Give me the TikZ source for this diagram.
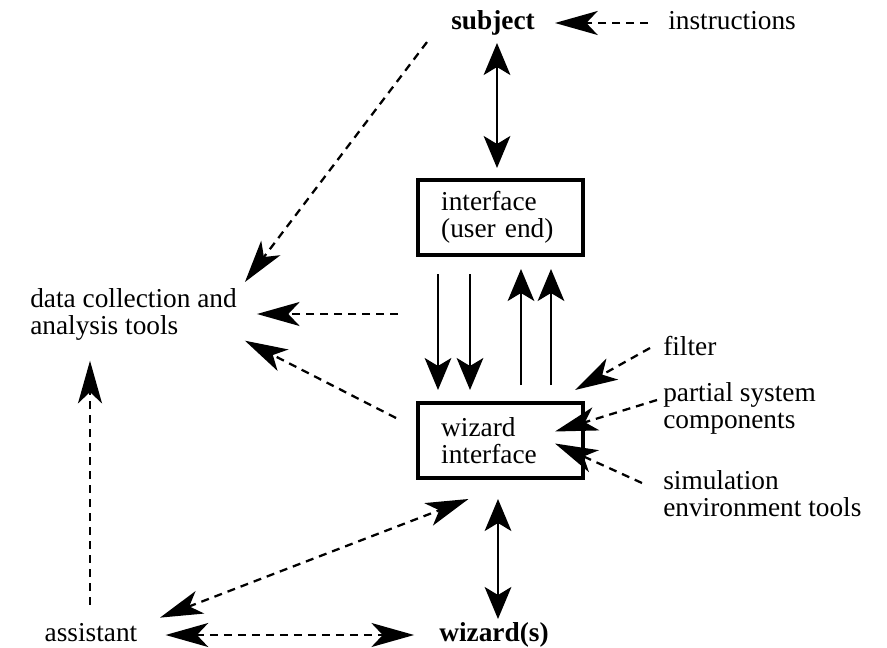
\documentclass[tikz,border=0pt]{standalone}
\usepackage{fontspec}
\setmainfont{Liberation Serif}
\usetikzlibrary{arrows.meta,calc}
\begin{document}
\begin{tikzpicture}[x=0.75pt,y=-0.75pt,
  txt/.style={inner sep=0pt, font=\fontsize{20.5}{20.5}\selectfont},
  btxt/.style={inner sep=0pt, font=\fontsize{20.5}{20.5}\selectfont\bfseries},
  boxnode/.style={draw, line width=3pt, minimum width=123.75pt, minimum height=56.25pt,
    inner xsep=17pt, inner ysep=0pt, align=left, text width=89pt,
    font=\fontsize{20.5}{20.5}\selectfont},
  dtip/.tip={Stealth[length=32pt,width=18pt,inset=8.5pt]},
  stip/.tip={Stealth[length=24pt,width=20pt,inset=6pt]},
  dsh/.style={line width=1.7pt, dash pattern=on 6pt off 4.5pt, -dtip},
  dshb/.style={line width=1.7pt, dash pattern=on 6pt off 4.5pt, dtip-dtip},
  sol/.style={line width=1.4pt, -stip},
  solb/.style={line width=1.8pt, stip-stip}
]
\path[use as bounding box] (0,0) rectangle (887,648);

% text nodes
\node[btxt, anchor=base] (subj) at (493,30) {subject};
\node[txt, anchor=base west] (instr) at (668,30) {instructions};
\node[txt, anchor=north west, align=left] (data) at (30,288) {data collection and\\analysis tools};
\node[txt, anchor=base west] (filter) at (663,355) {filter};
\node[txt, anchor=north west, align=left] (partial) at (663,382) {partial system\\components};
\node[txt, anchor=north west, align=left] (sim) at (663,470) {simulation\\environment tools};
\node[txt, anchor=base] (asst) at (91,641) {assistant};
\node[btxt, anchor=base] (wizs) at (494,641) {wizard(s)};

% boxes
\node[boxnode] (iface) at (500.5,217.5) {interface\\(user end)};
\node[boxnode] (wiz) at (500.5,440.5) {wizard\\interface};

\coordinate (mid) at (398,314);

% connectors
\draw[dsh, shorten <=15pt, shorten >=15pt] ([yshift=5.25pt]instr.base west) -- ([yshift=5.25pt]subj.base east);
\draw[solb] ($(iface.north)+(-3.5,-10)$) -- ($(iface.north)+(-3.5,-135)$);

\draw[sol] ($(iface.south)+(-62.5,17)$) -- ($(wiz.north)+(-62.5,-11)$);
\draw[sol] ($(iface.south)+(-30.5,17)$) -- ($(wiz.north)+(-30.5,-11)$);
\draw[sol] ($(wiz.north)+(20.5,-16)$) -- ($(iface.south)+(20.5,12)$);
\draw[sol] ($(wiz.north)+(50.5,-16)$) -- ($(iface.south)+(50.5,12)$);

\draw[dsh] ($(subj.south west)+(-24,6)$) -- ($(data.north east)+(8,-6)$);
\draw[dsh, shorten >=15pt] (mid) -- (mid -| data.east);
\draw[dsh] ($(wiz.west)+(-20,-22.5)$) -- ($(data.south east)+(8,0)$);

\draw[dsh] ($(filter.base west)+(-13,-7)$) -- ($(wiz.north east)+(-10,-11)$);
\draw[dsh] ($(partial.north west)+(-6,18)$) -- ($(wiz.east)+(-30,-9)$);
\draw[dsh] ($(sim.north west)+(-21,13)$) -- ($(wiz.east)+(-30,3)$);

\draw[dsh] ($(asst.north)+(-1,-18)$) -- ($(asst.north |- data.south)+(-1,20)$);
\draw[dshb] ($(asst.north)+(69,-5)$) -- ($(wiz.south)+(-32,19)$);
\draw[dshb] ($(asst.base east)+(28,-6)$) -- ($(wizs.base west)+(-25,-6)$);
\draw[solb] ($(wiz.south)+(-2.5,19)$) -- ($(wiz.south)+(-2.5,139)$);
\end{tikzpicture}
\end{document}
